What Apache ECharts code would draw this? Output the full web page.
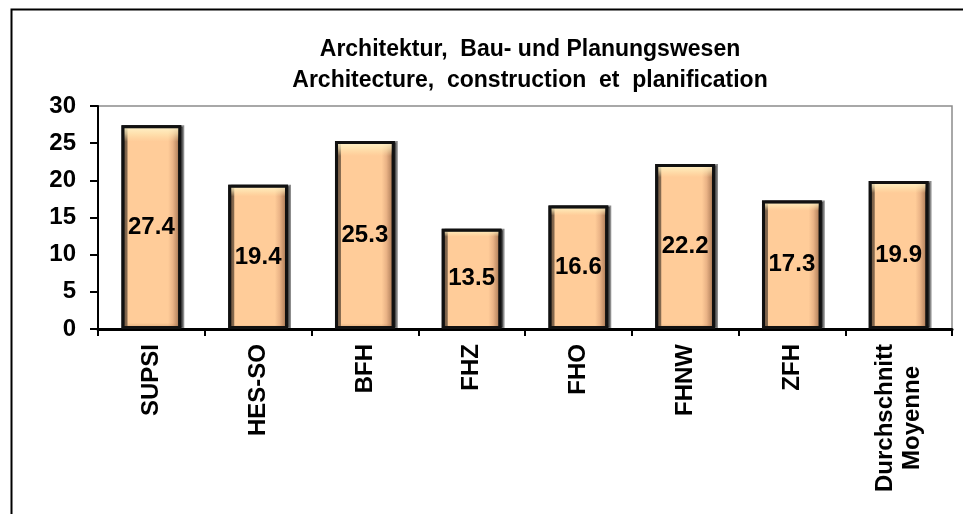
<!DOCTYPE html>
<html>
<head>
<meta charset="utf-8">
<script src="https://cdn.jsdelivr.net/npm/echarts@6/dist/echarts.min.js"></script>
<style>
html,body{margin:0;padding:0;background:#fff;}
#chart{width:963px;height:514px;}
</style>
</head>
<body>
<div id="chart"></div>
<script>
const titleLines = ['Architektur,  Bau- und Planungswesen', 'Architecture,  construction  et  planification'];
const categories = ['SUPSI', 'HES-SO', 'BFH', 'FHZ', 'FHO', 'FHNW', 'ZFH', 'Durchschnitt\nMoyenne'];
const values = [27.4, 19.4, 25.3, 13.5, 16.6, 22.2, 17.3, 19.9];
const yTicks = [0, 5, 10, 15, 20, 25, 30];

const FONT = "'Liberation Sans', Arial, sans-serif";
const chart = echarts.init(document.getElementById('chart'), null, {renderer: 'canvas'});

const sideGradient = new echarts.graphic.LinearGradient(0, 0, 1, 0, [
  {offset: 0, color: '#8a6446'},
  {offset: 0.05, color: '#d9a97f'},
  {offset: 0.11, color: '#ffcc99'},
  {offset: 0.78, color: '#ffcc99'},
  {offset: 0.86, color: '#eab386'},
  {offset: 0.93, color: '#c08d66'},
  {offset: 1, color: '#7a5538'}
]);
const topGradient = new echarts.graphic.LinearGradient(0, 0, 0, 1, [
  {offset: 0, color: 'rgba(255,250,215,0.95)'},
  {offset: 0.04, color: 'rgba(255,240,190,0.6)'},
  {offset: 0.08, color: 'rgba(255,235,180,0)'},
  {offset: 0.97, color: 'rgba(160,110,70,0)'},
  {offset: 1, color: 'rgba(160,110,70,0.45)'}
]);

chart.setOption({
  animation: false,
  backgroundColor: '#ffffff',
  textStyle: {fontFamily: FONT},
  graphic: [{
    type: 'rect', left: 9, top: 7, silent: true, z: 100,
    shape: {x: 0, y: 0, width: 2000, height: 2000},
    style: {fill: 'none', stroke: '#000', lineWidth: 2}
  }],
  title: {
    text: titleLines.join('\n'),
    left: 525, top: 29, textAlign: 'center',
    textStyle: {fontFamily: FONT, fontWeight: 'bold', fontSize: 23, lineHeight: 31, color: '#000'}
  },
  grid: {left: 98, right: 11, top: 106, bottom: 185, show: true, borderColor: '#8c8c8c', borderWidth: 1.5, backgroundColor: 'transparent'},
  xAxis: {
    type: 'category',
    data: categories,
    axisLine: {show: true, lineStyle: {color: '#000', width: 3}},
    axisTick: {show: true, length: 7, lineStyle: {color: '#000', width: 2}},
    axisLabel: {
      rotate: 90, margin: 15, interval: 0,
      fontFamily: FONT, fontWeight: 'bold', fontSize: 24, color: '#000', lineHeight: 27,
      formatter: function (v) {
        if (v.indexOf('\n') < 0) return v;
        return v.split('\n').map(function (s, i) { return '{' + (i ? 'b' : 'a') + '|' + s + '}'; }).join('\n');
      },
      rich: {
        a: {fontFamily: FONT, fontWeight: 'bold', fontSize: 24, color: '#000', lineHeight: 27},
        b: {fontFamily: FONT, fontWeight: 'bold', fontSize: 24, color: '#000', lineHeight: 27, align: 'center'}
      }
    }
  },
  yAxis: {
    type: 'value', min: 0, max: 30, interval: 5,
    axisLine: {show: true, lineStyle: {color: '#000', width: 2}},
    axisTick: {show: true, length: 8, lineStyle: {color: '#000', width: 2}},
    splitLine: {show: false},
    axisLabel: {
      margin: 22, fontFamily: FONT, fontWeight: 'bold', fontSize: 24, color: '#000',
      formatter: function (v) { return yTicks.indexOf(v) >= 0 ? String(v) : ''; }
    }
  },
  series: [{
    type: 'bar',
    data: values,
    barWidth: '56%',
    itemStyle: {
      color: sideGradient,
      borderColor: '#111',
      borderWidth: 3,
      shadowColor: 'rgba(0,0,0,0.45)',
      shadowOffsetX: 3,
      shadowOffsetY: 0,
      shadowBlur: 0
    },
    label: {
      show: true, position: 'inside',
      fontFamily: FONT, fontWeight: 'bold', fontSize: 24, color: '#000',
      formatter: function (p) { return p.value.toFixed(1); }
    },
    z: 2
  }, {
    type: 'bar',
    data: values,
    barWidth: '56%',
    barGap: '-100%',
    silent: true,
    itemStyle: {color: topGradient, borderColor: '#111', borderWidth: 3},
    label: {show: false},
    z: 3
  }]
});
</script>
</body>
</html>
